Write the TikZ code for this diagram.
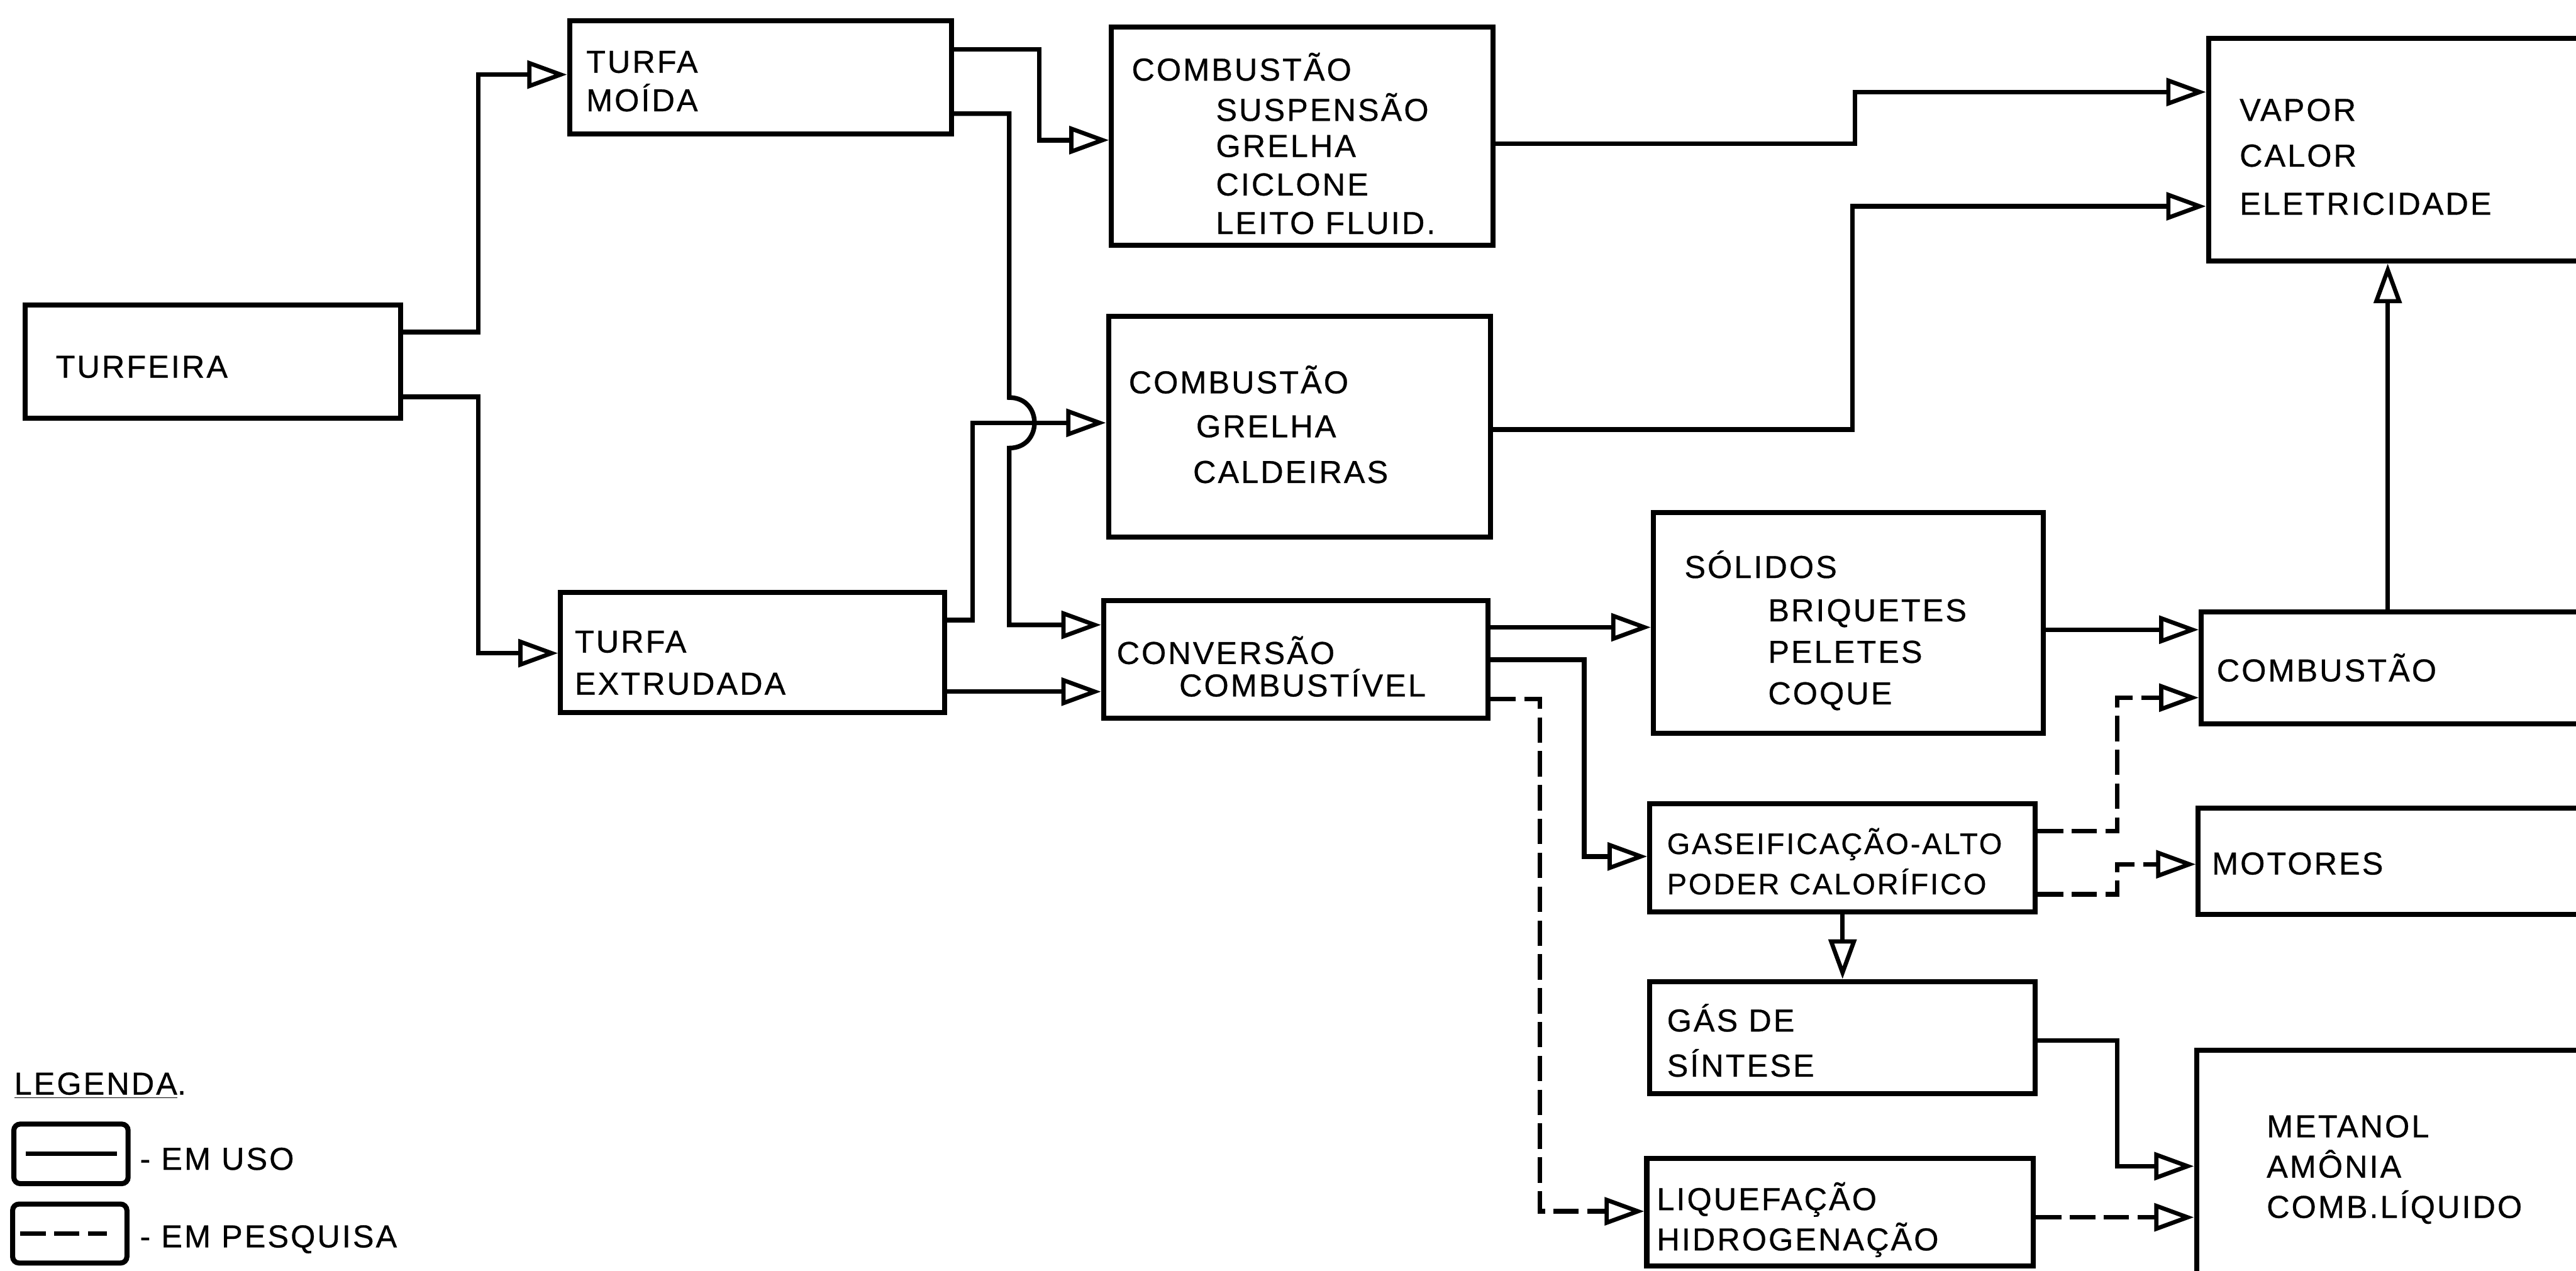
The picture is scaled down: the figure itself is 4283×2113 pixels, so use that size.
\documentclass[tikz,border=0pt]{standalone}
\usepackage{fontspec}
\setmainfont{Liberation Sans}[LetterSpace=6,FakeBold=0.6]
\usetikzlibrary{arrows.meta,fit}
\begin{document}
\begin{tikzpicture}[x=0.01cm,y=-0.01cm,
  box/.style={draw, line width=2.4pt, inner sep=0pt},
  lbl/.style={anchor=base west, inner sep=0pt, font=\fontsize{15pt}{18pt}\selectfont},
  lbls/.style={lbl, font=\fontsize{14pt}{17pt}\selectfont},
  con/.style={line width=2.2pt},
  dsh/.style={con, dash pattern=on 12pt off 4pt},
  arr/.style={-{Triangle[open,length=0.66cm,width=0.46cm,line width=2pt]}}]
\useasboundingbox (0,0) rectangle (4283,2113);
\fill[white] (0,0) rectangle (4283,2113);
\clip (0,0) rectangle (4283,2113);

% boxes
\node[box, fit={(42,507)(666,695)}] (turfeira) {};
\node[box, fit={(947,35)(1582,223)}] (moida) {};
\node[box, fit={(932,985)(1571,1185)}] (extr) {};
\node[box, fit={(1848,45)(2482,408)}] (comb1) {};
\node[box, fit={(1843,526)(2478,893)}] (comb2) {};
\node[box, fit={(3672,64)(4320,434)}] (vapor) {};
\node[box, fit={(1835,999)(2474,1194)}] (conv) {};
\node[box, fit={(2749,852)(3397,1219)}] (solidos) {};
\node[box, fit={(2743,1336)(3384,1516)}] (gaseif) {};
\node[box, fit={(2743,1632)(3384,1818)}] (gas) {};
\node[box, fit={(2738,1926)(3381,2105)}] (liquef) {};
\node[box, fit={(3660,1017)(4320,1204)}] (comb3) {};
\node[box, fit={(3655,1344)(4320,1520)}] (motores) {};
\node[box, fit={(3652,1746)(4320,2200)}] (metanol) {};

% texts
\node[lbl] (t1) at (92,628) {TURFEIRA};
\node[lbl] (t2) at (974,121) {TURFA};
\node[lbl] (t3) at (974,185) {MOÍDA};
\node[lbl] (t4) at (955,1085) {TURFA};
\node[lbl] (t5) at (955,1155) {EXTRUDADA};
\node[lbl] (t6) at (1881,134) {COMBUSTÃO};
\node[lbl] (t7) at (2021,201) {SUSPENSÃO};
\node[lbl] (t8) at (2021,261) {GRELHA};
\node[lbl] (t9) at (2021,325) {CICLONE};
\node[lbl] (t10) at (2021,389) {LEITO FLUID.};
\node[lbl] (t11) at (1876,654) {COMBUSTÃO};
\node[lbl] (t12) at (1988,727) {GRELHA};
\node[lbl] (t13) at (1983,803) {CALDEIRAS};
\node[lbl] (t14) at (3723,201) {VAPOR};
\node[lbl] (t15) at (3723,277) {CALOR};
\node[lbl] (t16) at (3723,357) {ELETRICIDADE};
\node[lbl] (t17) at (1856,1104) {CONVERSÃO};
\node[lbl] (t18) at (1960,1158) {COMBUSTÍVEL};
\node[lbl] (t19) at (2800,961) {SÓLIDOS};
\node[lbl] (t20) at (2939,1033) {BRIQUETES};
\node[lbl] (t21) at (2939,1102) {PELETES};
\node[lbl] (t22) at (2939,1171) {COQUE};
\node[lbls] (t23) at (2771,1420) {GASEIFICAÇÃO-ALTO};
\node[lbls] (t24) at (2771,1487) {PODER CALORÍFICO};
\node[lbl] (t25) at (2771,1715) {GÁS DE};
\node[lbl] (t26) at (2771,1790) {SÍNTESE};
\node[lbl] (t27) at (2754,2012) {LIQUEFAÇÃO};
\node[lbl] (t28) at (2754,2079) {HIDROGENAÇÃO};
\node[lbl] (t29) at (3685,1133) {COMBUSTÃO};
\node[lbl] (t30) at (3677,1454) {MOTORES};
\node[lbl] (t31) at (3768,1891) {METANOL};
\node[lbl] (t32) at (3768,1958) {AMÔNIA};
\node[lbl] (t33) at (3768,2025) {COMB.LÍQUIDO};

% connectors
\draw[con,arr] (turfeira.east |- 0,552) -- (795,552) |- (moida.west |- 0,124);
\draw[con,arr] (turfeira.east |- 0,660) -- (795,660) |- (extr.west |- 0,1086);
\draw[con,arr] (moida.east |- 0,82) -- (1728,82) |- (comb1.west |- 0,233);
\draw[con,arr] (moida.east |- 0,189) -- (1678,189) -- (1678,661)
   .. controls (1734,661) and (1734,745) .. (1678,745) -- (1678,1039) -- (conv.west |- 0,1039);
\draw[con,arr] (extr.east |- 0,1031) -- (1617,1031) -- (1617,703) -- (comb2.west |- 0,703);
\draw[con,arr] (extr.east |- 0,1150) -- (conv.west |- 0,1150);
\draw[con,arr] (comb1.east |- 0,239) -- (3084,239) |- (vapor.west |- 0,153);
\draw[con,arr] (comb2.east |- 0,714) -- (3080,714) |- (vapor.west |- 0,343);
\draw[con,arr] (conv.east |- 0,1043) -- (solidos.west |- 0,1043);
\draw[con,arr] (conv.east |- 0,1097) -- (2634,1097) |- (gaseif.west |- 0,1424);
\draw[dsh,arr] (conv.east |- 0,1162) -- (2560,1162) |- (liquef.west |- 0,2014);
\draw[con,arr] (solidos.east |- 0,1047) -- (comb3.west |- 0,1047);
\draw[dsh,arr] (gaseif.east |- 0,1382) -- (3520,1382) |- (comb3.west |- 0,1160);
\draw[dsh,arr] (gaseif.east |- 0,1487) -- (3520,1487) |- (motores.west |- 0,1437);
\draw[con,arr] (gaseif.south) -- (gas.north);
\draw[con,arr] (gas.east |- 0,1730) -- (3520,1730) |- (metanol.west |- 0,1939);
\draw[dsh,arr] (liquef.east |- 0,2024) -- (metanol.west |- 0,2024);
\draw[con,arr] (comb3.north -| 3970,0) -- (vapor.south -| 3970,0);

% legend
\node[lbl] (leg) at (23,1820) {\underline{LEGENDA}.};
\node[box, rounded corners=3pt, fit={(23,1869)(213,1968)}] (lbox1) {};
\node[box, rounded corners=3pt, fit={(21,2002)(211,2100)}] (lbox2) {};
\draw[con] ([xshift=0.24cm]lbox1.west) -- ([xshift=-0.23cm]lbox1.east);
\draw[dsh] ([xshift=0.17cm]lbox2.west) -- ([xshift=-0.37cm]lbox2.east);
\node[lbl] (l1) at (232,1945) {- EM USO};
\node[lbl] (l2) at (232,2074) {- EM PESQUISA};
\end{tikzpicture}
\end{document}
